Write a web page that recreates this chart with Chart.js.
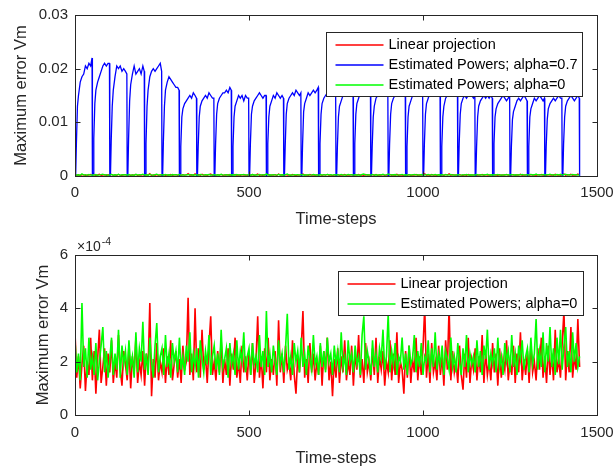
<!DOCTYPE html>
<html>
<head>
<meta charset="utf-8">
<script src="https://cdn.jsdelivr.net/npm/chart.js@4.4.1/dist/chart.umd.min.js"></script>
<style>
  html, body { margin: 0; padding: 0; background: #fff; }
  .panel { position: absolute; left: 0; width: 615px; height: 234px; }
</style>
</head>
<body>
<div class="panel" style="top:0"><canvas id="topChart" width="615" height="234"></canvas></div>
<div class="panel" style="top:234px"><canvas id="bottomChart" width="615" height="234"></canvas></div>
<script>
// -------------------- DATA --------------------
const seriesNames = ['Linear projection', 'Estimated Powers; alpha=0.7', 'Estimated Powers; alpha=0'];
const seriesColors = ['#ff0000', '#0000ff', '#00ff00'];
const xTicks = [0, 500, 1000, 1500];
const topYTicks = [0, 0.01, 0.02, 0.03];
const bottomYTicks = [0, 2, 4, 6]; // x 1e-4

// noise series sampled every 5 time-steps, values in 1e-4
const noiseStep = 5;
const redVm = [
  3.1, 1.4, 2.2, 1.0, 1.9, 2.6, 0.9, 2.0, 1.5, 2.9,
  1.3, 2.4, 0.8, 2.1, 3.2, 1.2, 1.8, 2.5, 1.1, 2.3,
  1.6, 2.8, 1.2, 2.0, 1.4, 3.0, 1.7, 1.1, 2.4, 1.9,
  1.3, 2.6, 1.0, 2.2, 1.6, 2.9, 1.2, 2.0, 1.5, 2.4,
  1.1, 2.3, 1.7, 4.2, 0.7, 2.1, 1.4, 2.7, 1.3, 2.0,
  1.6, 2.5, 1.2, 2.2, 1.5, 2.8, 1.3, 1.9, 2.4, 1.4,
  2.1, 1.2, 2.6, 1.7, 2.0, 4.4, 1.5, 2.3, 1.3, 4.0,
  1.6, 2.5, 1.4, 3.2, 1.7, 2.2, 1.2, 2.6, 3.7, 1.5,
  2.0, 1.3, 2.4, 1.6, 2.8, 1.2, 2.1, 1.5, 2.5, 1.1,
  2.3, 1.7, 2.9, 1.4, 2.0, 1.2, 2.6, 1.6, 2.2, 1.3,
  2.4, 1.5, 2.7, 1.2, 2.0, 3.7, 1.4, 2.2, 1.0, 2.5,
  1.6, 2.9, 1.3, 2.1, 1.5, 2.4, 1.1, 3.55, 1.6, 2.3,
  1.2, 2.6, 1.7, 2.0, 1.3, 2.8, 1.5, 0.8, 2.2, 1.6,
  2.5, 3.9, 1.4, 2.1, 1.2, 2.7, 1.6, 2.3, 1.3, 2.0,
  1.5, 2.6, 1.1, 2.4, 1.7, 2.9, 1.3, 2.0, 0.7, 2.1,
  1.4, 2.5, 1.2, 2.2, 1.6, 2.8, 1.3, 2.0, 1.5, 2.6,
  1.1, 2.3, 1.7, 3.0, 1.4, 2.1, 1.2, 2.7, 1.6, 2.0,
  1.3, 2.5, 1.5, 2.9, 1.2, 2.2, 1.7, 2.4, 1.1, 2.0,
  1.6, 2.8, 1.3, 2.3, 1.5, 3.1, 1.2, 2.0, 1.7, 0.8,
  2.4, 1.4, 2.6, 1.2, 2.1, 1.6, 2.9, 1.3, 2.2, 1.5,
  2.5, 4.05, 1.4, 2.3, 1.2, 2.7, 1.6, 2.0, 1.3, 2.6,
  1.5, 2.2, 1.1, 2.8, 1.7, 4.05, 1.3, 2.4, 1.6, 2.0,
  1.2, 2.6, 1.5, 0.95, 2.3, 1.4, 2.9, 1.2, 2.1, 1.7,
  2.5, 1.3, 2.2, 1.6, 3.0, 1.2, 2.4, 1.5, 2.0, 1.3,
  2.7, 1.6, 2.3, 1.1, 2.5, 1.4, 2.1, 1.7, 2.8, 1.3,
  2.0, 1.5, 2.6, 1.2, 2.3, 1.6, 3.1, 1.3, 2.1, 1.5,
  2.4, 1.2, 2.7, 1.6, 2.0, 1.3, 2.5, 1.7, 2.9, 1.4,
  2.2, 1.2, 2.6, 1.5, 2.3, 1.3, 3.2, 1.6, 2.1, 1.4,
  2.7, 3.9, 1.3, 2.4, 1.6, 3.3, 1.4, 2.2, 1.7, 3.6,
  1.8
];
const greenVm = [
  2.8, 1.6, 2.3, 1.3, 4.2, 1.8, 2.5, 1.4, 2.9, 1.7,
  2.2, 1.5, 2.7, 1.3, 2.0, 2.6, 3.3, 1.6, 2.4, 1.4,
  2.1, 2.9, 1.5, 2.3, 1.7, 3.2, 1.4, 2.6, 1.9, 2.4,
  1.5, 2.8, 1.8, 2.2, 1.4, 3.1, 1.6, 2.5, 2.0, 3.5,
  1.7, 2.3, 1.5, 2.9, 2.0, 1.4, 2.6, 3.45, 1.6, 2.2,
  2.5, 1.5, 3.0, 1.8, 2.3, 1.4, 2.7, 2.0, 2.4, 1.6,
  2.9, 1.7, 2.2, 1.5, 2.6, 2.0, 3.1, 1.6, 2.3, 1.8,
  2.5, 1.4, 2.8, 2.1, 1.6, 2.4, 1.9, 3.0, 1.5, 2.2,
  2.6, 1.7, 2.3, 1.5, 3.2, 1.8, 2.1, 2.5, 1.4, 2.7,
  1.9, 2.3, 1.5, 2.8, 1.7, 2.4, 2.0, 3.1, 1.6, 2.2,
  2.5, 1.5, 2.7, 1.9, 2.2, 1.6, 3.0, 1.8, 2.4, 1.5,
  3.9, 1.8, 2.3, 1.6, 2.6, 2.0, 1.5, 2.8, 1.9, 2.3,
  1.6, 2.5, 3.8, 1.7, 2.2, 1.5, 2.7, 2.0, 2.4, 1.6,
  2.9, 1.8, 2.3, 1.5, 2.6, 2.1, 1.7, 3.0, 1.9, 2.2,
  1.5, 2.7, 1.8, 2.4, 1.6, 2.9, 2.0, 2.3, 1.5, 2.6,
  1.9, 2.4, 1.6, 3.1, 1.8, 2.2, 1.5, 2.8, 2.0, 2.3,
  1.6, 2.6, 1.9, 2.2, 1.5, 3.0, 3.7, 1.7, 2.4, 2.0,
  1.5, 2.8, 1.8, 2.3, 1.6, 2.5, 2.1, 3.2, 1.7, 2.2,
  3.8, 1.6, 2.4, 1.9, 2.7, 1.5, 2.2, 2.0, 2.9, 1.7,
  2.3, 1.5, 2.6, 1.9, 2.1, 3.0, 1.6, 2.4, 1.8, 2.7,
  1.5, 2.2, 2.0, 2.8, 1.6, 2.5, 1.8, 3.1, 1.7, 2.3,
  1.9, 2.6, 1.5, 2.4, 2.1, 1.7, 2.9, 1.8, 2.2, 1.6,
  2.7, 2.0, 1.5, 2.5, 1.8, 3.0, 1.6, 2.3, 1.9, 2.2,
  1.6, 2.8, 1.8, 2.4, 1.5, 2.6, 2.1, 3.2, 1.7, 2.3,
  1.9, 2.5, 1.6, 2.9, 1.8, 2.2, 1.5, 2.7, 2.0, 2.4,
  1.6, 3.0, 1.8, 2.3, 1.5, 2.6, 2.1, 2.8, 1.7, 2.2,
  2.5, 1.6, 2.9, 1.9, 2.3, 3.6, 1.7, 2.4, 1.8, 3.1,
  1.6, 2.7, 2.0, 3.3, 1.8, 2.5, 1.5, 2.9, 1.9, 3.2,
  1.7, 2.6, 3.3, 1.8, 2.4, 1.6, 3.1, 2.0, 2.7, 1.8,
  2.2
];

// alpha=0.7 series: one row per 50-step cycle, sampled at cycleOffsets, values in 1e-3
const cycleLen = 50;
const cycleOffsets = [0, 2, 4, 7, 10, 15, 20, 25, 30, 35, 40, 45, 49];
const blueCycles = [
  [0, 0.3, 6, 13, 15, 17.5, 18.5, 19, 20.5, 20, 21, 20.5, 22],
  [0, 0.5, 7, 13.5, 16, 17.5, 18.5, 19.5, 20.5, 21, 20.5, 21, 21],
  [0, 0.4, 6.5, 13, 16, 18.5, 20.5, 20, 20.5, 19.5, 20, 19.5, 19],
  [0, 0.5, 7, 14, 17, 19, 20.5, 19, 19.5, 20, 19, 20.5, 19.5],
  [0, 0.4, 6, 13, 16, 18.5, 19.5, 20, 19.5, 20, 20.5, 21, 19.5],
  [0, 0.5, 6.5, 13, 16, 17.5, 18.5, 18, 17.5, 17, 16.5, 16.5, 16],
  [0, 0.4, 5.5, 11, 12.5, 13.5, 14, 14.5, 15, 14.5, 15.5, 15, 14.5],
  [0, 0.3, 5.5, 11, 13, 14, 14.5, 15, 14.5, 15.5, 15, 14.5, 14.5],
  [0, 0.4, 6, 11.5, 13.5, 14.5, 15, 15.5, 15.5, 16, 15.5, 16.5, 16],
  [0, 0.3, 5.5, 11, 13, 14, 15, 14.5, 15, 14, 15, 14.5, 14.5],
  [0, 0.4, 6, 11.5, 13, 14, 14.5, 15, 15.5, 15, 14.5, 15, 15],
  [0, 0.4, 6, 11, 13, 14, 15, 14.5, 15.5, 15, 14.5, 15, 14.5],
  [0, 0.3, 5.5, 11.5, 13.5, 14.5, 15, 15.5, 15, 16, 15.5, 15, 15.5],
  [0, 0.4, 6, 12, 13.5, 14.5, 15.5, 15, 15.5, 16, 15.5, 16, 16.5],
  [0, 0.4, 6, 11.5, 13.5, 14.5, 15, 15.5, 15, 15.5, 16, 15.5, 15.5],
  [0, 0.3, 5.5, 11, 13, 14, 15, 15.5, 16, 15.5, 15, 15.5, 15],
  [0, 0.4, 6, 11.5, 13.5, 14.5, 15.5, 15, 15.5, 16, 15.5, 15, 15.5],
  [0, 0.4, 5.5, 11, 13, 14.5, 15, 15.5, 15, 15.5, 16, 15.5, 15],
  [0, 0.3, 6, 11.5, 13.5, 14.5, 15, 15.5, 16, 15.5, 15.5, 16, 15.5],
  [0, 0.4, 5.5, 11, 13, 14, 15, 15.5, 15, 16, 15.5, 15, 15.5],
  [0, 0.4, 6, 11.5, 13.5, 14.5, 15.5, 15, 15.5, 15.5, 16, 15.5, 15],
  [0, 0.3, 5.5, 11, 13, 14.5, 15, 15.5, 15, 15.5, 15, 15.5, 15.5],
  [0, 0.4, 6, 11.5, 13.5, 14.5, 15, 14.5, 15, 15.5, 15, 14.5, 15],
  [0, 0.4, 5.5, 11, 13, 14, 14.5, 15, 14.5, 15, 14.5, 15, 14.5],
  [0, 0.3, 6, 11, 12.5, 13.5, 14, 14.5, 15, 14.5, 14, 14.5, 15],
  [0, 0.4, 5.5, 10.5, 12, 13, 14, 14.5, 14, 14.5, 15, 14.5, 14],
  [0, 0.4, 5.5, 11, 12.5, 13.5, 14.5, 14, 14.5, 15, 14.5, 14, 14.5],
  [0, 0.3, 5.5, 10.5, 12.5, 13.5, 14, 14.5, 14, 14.5, 15, 14.5, 14.5],
  [0, 0.4, 6, 11, 13, 14, 14.5, 15, 14.5, 14, 14.5, 15, 14.5],
  [0]
];

// -------------------- BUILD POINTS --------------------
const toPoints = (vals, scale) => vals.map((v, i) => ({ x: i * noiseStep, y: v * scale }));
const bluePoints = [];
blueCycles.forEach((row, k) => {
  row.forEach((v, j) => bluePoints.push({ x: k * cycleLen + cycleOffsets[j], y: v * 1e-3 }));
});

const TEXT = '#262626';
const FONT = '"Liberation Sans", Arial, sans-serif';

// box, inward ticks, legend and exponent label (MATLAB look)
const matlabAxes = {
  id: 'matlabAxes',
  afterDraw(chart, args, opts) {
    const { ctx, chartArea: a, scales } = chart;
    ctx.save();
    ctx.strokeStyle = TEXT;
    ctx.lineWidth = 1;
    const L = Math.round(a.left) + 0.5, R = Math.round(a.right) + 0.5;
    const T = Math.round(a.top) + 0.5, B = Math.round(a.bottom) + 0.5;
    ctx.strokeRect(L, T, R - L, B - T);
    ctx.beginPath();
    scales.x.ticks.forEach(t => {
      const px = Math.round(scales.x.getPixelForValue(t.value)) + 0.5;
      ctx.moveTo(px, B); ctx.lineTo(px, B - 5);
      ctx.moveTo(px, T); ctx.lineTo(px, T + 5);
    });
    scales.y.ticks.forEach(t => {
      const py = Math.round(scales.y.getPixelForValue(t.value)) + 0.5;
      ctx.moveTo(L, py); ctx.lineTo(L + 5, py);
      ctx.moveTo(R, py); ctx.lineTo(R - 5, py);
    });
    ctx.stroke();

    // legend
    const lg = opts.legend;
    const bx = Math.round(a.right - lg.right - lg.w) + 0.5;
    const by = Math.round(a.top + lg.top) + 0.5;
    ctx.fillStyle = '#fff';
    ctx.fillRect(bx, by, lg.w, lg.h);
    ctx.strokeStyle = TEXT;
    ctx.strokeRect(bx, by, lg.w, lg.h);
    ctx.font = '14.5px ' + FONT;
    ctx.textBaseline = 'middle';
    ctx.textAlign = 'left';
    chart.data.datasets.forEach((ds, i) => {
      const y = Math.round(by + lg.first + i * lg.row);
      ctx.beginPath();
      ctx.lineWidth = 1.3;
      ctx.strokeStyle = ds.borderColor;
      ctx.moveTo(bx + 9, y);
      ctx.lineTo(bx + 57, y);
      ctx.stroke();
      ctx.fillStyle = '#000';
      ctx.fillText(ds.label, bx + 62, y);
    });

    if (opts.exponent) {
      ctx.fillStyle = TEXT;
      ctx.font = '14px ' + FONT;
      ctx.textBaseline = 'alphabetic';
      ctx.fillText('\u00d710', a.left + 2, a.top - 4);
      const w = ctx.measureText('\u00d710').width;
      ctx.font = '10.5px ' + FONT;
      ctx.fillText(opts.exponent, a.left + 2 + w + 1, a.top - 10);
    }
    ctx.restore();
  }
};

function axesOptions(yTicks, yTitlePad, tickPad, titlePadBottom, xHeight) {
  return {
    x: {
      type: 'linear', min: 0, max: 1500,
      afterBuildTicks: s => { s.ticks = xTicks.map(v => ({ value: v })); },
      grid: { display: false, drawTicks: false },
      border: { display: false },
      ticks: { color: TEXT, font: { family: FONT, size: 15 }, padding: tickPad, maxRotation: 0,
               callback: v => String(v) },
      title: { display: true, text: 'Time-steps', color: TEXT,
               font: { family: FONT, size: 16.5 }, padding: { top: 0, bottom: titlePadBottom } },
      afterFit: s => { s.height = xHeight; s.paddingLeft = 0; s.paddingRight = 0; }
    },
    y: {
      type: 'linear', min: yTicks[0], max: yTicks[yTicks.length - 1],
      afterBuildTicks: s => { s.ticks = yTicks.map(v => ({ value: v })); },
      grid: { display: false, drawTicks: false },
      border: { display: false },
      ticks: { color: TEXT, font: { family: FONT, size: 15 }, padding: 7, callback: v => String(v) },
      title: { display: true, text: 'Maximum error Vm', color: TEXT,
               font: { family: FONT, size: 16.5 }, padding: { top: yTitlePad, bottom: 0 } },
      afterFit: s => { s.width = 75; s.paddingTop = 0; s.paddingBottom = 0; }
    }
  };
}

const blueStyle = { borderWidth: 1.3, pointRadius: 0, tension: 0, fill: false };
const noiseStyle = { borderWidth: 1.6, pointRadius: 0, tension: 0, fill: false };

// -------------------- TOP CHART --------------------
new Chart(document.getElementById('topChart'), {
  type: 'line',
  data: {
    datasets: [
      { label: seriesNames[0], data: toPoints(redVm, 1e-4), borderColor: seriesColors[0], order: 3, ...blueStyle },
      { label: seriesNames[1], data: bluePoints, borderColor: seriesColors[1], order: 2, ...blueStyle },
      { label: seriesNames[2], data: toPoints(greenVm, 1e-4), borderColor: seriesColors[2], order: 1, ...blueStyle }
    ]
  },
  options: {
    responsive: false,
    animation: false,
    layout: { padding: { left: 0, right: 18, top: 15, bottom: 0 } },
    scales: axesOptions(topYTicks, 12, 8, 5, 58),
    plugins: {
      legend: { display: false },
      tooltip: { enabled: false },
      matlabAxes: { legend: { right: 15, top: 17, w: 256, h: 64, first: 12, row: 20 } }
    }
  },
  plugins: [matlabAxes]
});

// -------------------- BOTTOM CHART --------------------
new Chart(document.getElementById('bottomChart'), {
  type: 'line',
  data: {
    datasets: [
      { label: seriesNames[0], data: toPoints(redVm, 1), borderColor: seriesColors[0], order: 2, ...noiseStyle },
      { label: seriesNames[2], data: toPoints(greenVm, 1), borderColor: seriesColors[2], order: 1, ...noiseStyle }
    ]
  },
  options: {
    responsive: false,
    animation: false,
    layout: { padding: { left: 0, right: 18, top: 21, bottom: 0 } },
    scales: axesOptions(bottomYTicks, 34, 9, 0, 53),
    plugins: {
      legend: { display: false },
      tooltip: { enabled: false },
      matlabAxes: { legend: { right: 14, top: 16, w: 245, h: 44, first: 12.5, row: 19.5 }, exponent: '-4' }
    }
  },
  plugins: [matlabAxes]
});
</script>
</body>
</html>
